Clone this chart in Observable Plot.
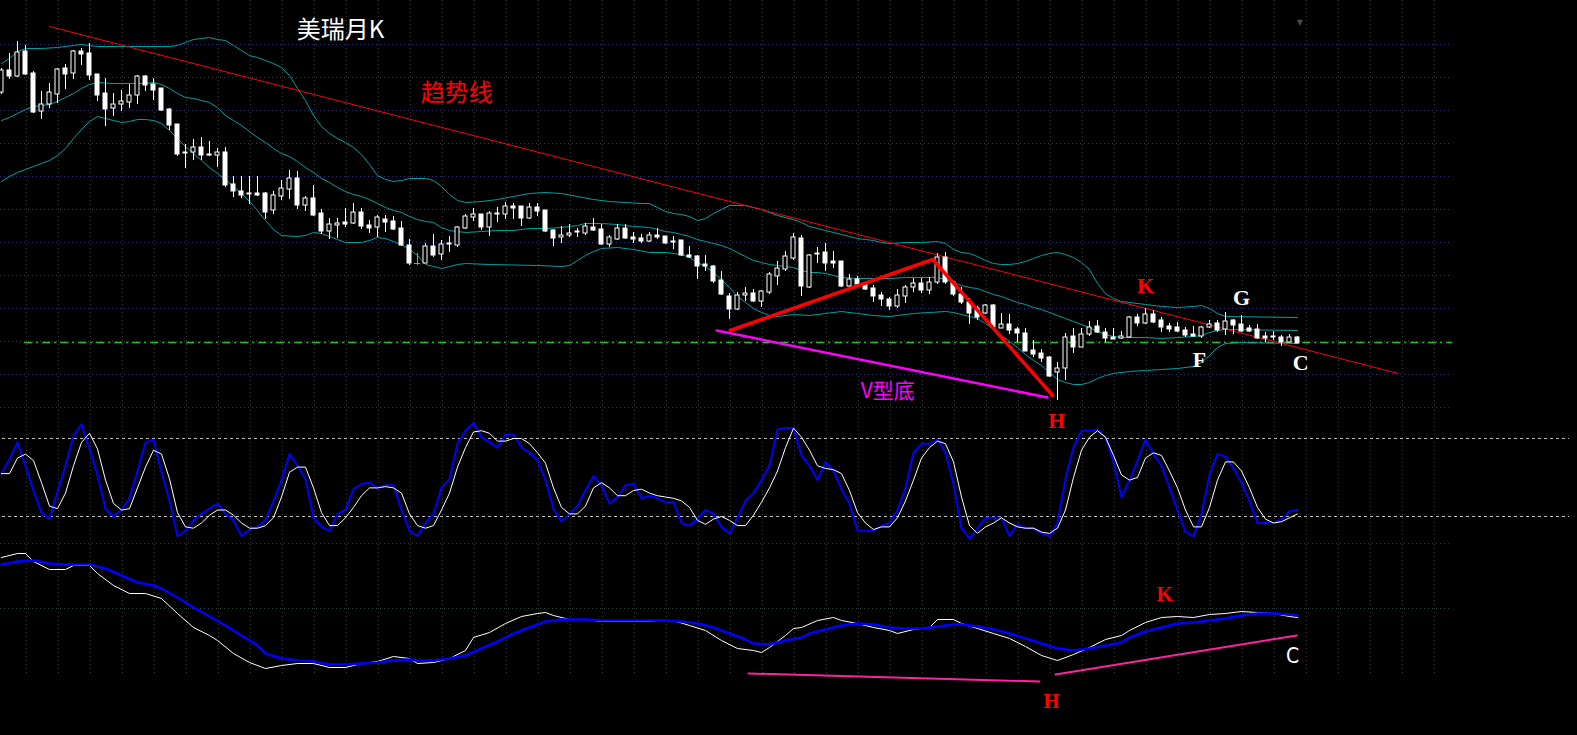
<!DOCTYPE html>
<html><head><meta charset="utf-8">
<script src="https://cdn.jsdelivr.net/npm/d3@7"></script>
<script src="https://cdn.jsdelivr.net/npm/@observablehq/plot@0.6"></script>
<style>
html,body{margin:0;padding:0;background:#000;}
#chart{width:1577px;height:735px;background:#000;overflow:hidden;}
#chart svg{display:block;overflow:visible;}
</style></head><body><div id="chart"></div>
<script>
// ---------- monthly candles, index -1 .. 161 ----------
const firstIndex = -1;
const open = [35.8,38.0,37.4,39.9,37.7,33.9,34.6,35.6,38.2,37.7,39.9,39.7,37.6,35.7,34.2,34.6,34.8,35.5,37.4,36.6,36.2,34.1,32.6,29.8,29.8,30.3,29.6,29.5,29.8,26.6,25.9,25.7,25.7,25.7,24.0,25.4,26.1,27.2,24.5,25.2,23.7,21.9,22.5,22.8,22.7,23.8,22.5,22.3,23.1,22.9,22.2,20.5,18.7,18.7,20.4,19.6,20.6,20.5,22.2,23.3,23.6,22.3,23.7,23.6,24.4,24.4,23.2,24.3,24.0,22.0,21.3,21.5,21.8,21.7,22.3,22.1,20.6,21.1,22.2,21.3,21.2,20.9,21.5,21.4,20.8,21.0,19.5,19.4,18.6,18.4,17.0,15.4,14.1,15.5,15.7,14.9,15.8,17.4,18.1,19.2,21.2,16.3,19.6,19.8,18.9,18.9,16.4,17.1,16.6,16.2,15.5,15.1,14.4,15.4,16.3,16.7,16.0,16.8,19.3,16.8,15.6,14.8,14.2,13.7,14.5,12.2,12.6,12.1,11.7,10.0,9.7,9.3,7.8,8.2,11.4,10.3,11.6,12.4,11.8,11.3,11.2,11.3,13.3,12.7,13.6,13.0,12.4,12.3,12.0,11.6,11.4,12.3,12.7,12.1,13.0,12.6,12.2,12.1,11.4,11.4,11.3,10.8,11.3];
const close = [38.0,37.4,39.8,37.6,33.8,34.6,35.8,38.1,37.6,39.9,39.6,37.5,35.5,34.1,34.6,34.9,35.5,37.4,36.5,36.0,34.0,32.5,29.6,29.7,30.3,29.5,29.5,29.8,26.5,25.9,25.5,25.6,25.5,23.8,25.5,26.2,27.2,24.5,25.2,23.5,21.9,22.6,22.7,22.6,23.8,22.4,22.2,23.3,22.8,22.1,20.5,18.7,18.7,20.4,19.5,20.6,20.7,22.3,23.4,23.6,22.3,23.7,23.6,24.4,24.2,23.2,24.3,23.9,21.9,21.2,21.5,21.7,21.9,22.4,22.0,20.6,21.3,22.2,21.2,21.1,20.9,21.5,21.3,20.7,20.9,19.5,19.3,18.4,18.4,16.9,15.6,14.1,15.5,15.7,14.9,15.9,17.6,18.2,19.4,21.3,16.4,19.5,19.7,18.7,18.7,16.4,17.1,16.6,16.1,15.4,15.1,14.4,15.5,16.3,16.7,16.0,16.8,19.3,16.8,15.6,14.8,13.7,13.3,14.5,12.3,12.6,12.0,11.7,9.9,9.6,9.2,7.4,8.2,11.3,10.3,11.6,12.3,11.8,11.2,11.1,11.4,13.3,12.7,13.6,12.8,12.3,12.1,11.9,11.5,11.4,12.3,12.6,12.0,12.9,12.5,11.9,11.9,11.2,11.2,11.3,10.8,11.3,10.7];
const high = [38.2,39.7,40.9,40.5,37.9,35.9,36.7,38.2,38.6,40.0,40.2,40.7,37.6,37.2,35.7,36.0,36.6,37.5,37.5,37.2,36.2,34.2,32.6,30.6,31.1,31.3,30.9,30.2,30.3,27.4,27.4,27.4,27.4,25.8,25.9,27.0,28.0,27.9,25.4,26.5,24.1,23.2,23.2,24.2,24.7,24.2,23.0,23.5,23.5,23.4,22.9,21.1,19.7,20.7,21.6,21.0,21.4,22.4,23.6,24.2,23.6,23.9,24.3,24.8,24.7,24.4,24.7,24.7,24.0,22.1,22.4,22.6,22.2,22.7,23.2,22.6,21.5,22.6,22.6,21.8,21.6,21.8,22.2,21.4,21.4,21.0,20.4,19.5,19.5,18.5,17.9,15.7,15.8,16.3,16.1,16.0,17.8,18.9,19.9,21.7,21.5,19.6,20.3,20.7,19.9,18.9,17.6,17.4,16.8,16.5,15.8,15.3,16.1,16.5,17.2,17.2,17.3,19.7,19.8,16.9,16.3,15.2,14.4,14.6,14.6,13.7,13.6,12.3,12.2,11.0,10.1,9.4,8.8,11.7,12.2,12.2,12.9,13.0,12.2,12.2,11.9,13.4,13.6,14.2,14.0,13.3,12.7,12.8,12.3,12.4,12.4,13.0,13.0,13.8,13.1,13.5,12.5,12.6,11.8,11.9,11.5,11.6,11.4];
const low = [35.6,37.1,37.3,37.5,33.7,33.1,34.2,34.7,36.1,37.1,38.5,37.0,34.9,32.4,33.4,33.9,34.2,34.6,35.9,35.0,33.9,32.0,29.4,28.2,29.0,29.0,29.4,28.3,26.3,25.3,25.2,24.6,25.4,23.1,23.6,25.0,25.1,24.1,23.9,23.4,21.6,21.1,21.2,22.3,22.6,22.1,21.7,21.3,21.8,22.0,20.4,18.5,18.5,18.7,19.3,19.0,19.8,20.3,22.1,22.9,22.0,21.4,22.8,23.1,23.1,22.4,23.1,23.4,21.8,20.4,20.7,21.3,21.3,21.5,21.9,20.5,20.3,21.0,21.1,20.7,20.7,20.8,21.1,20.6,20.1,19.4,19.2,17.1,17.9,16.7,15.5,13.1,14.0,14.9,14.8,14.3,15.6,16.5,17.9,19.0,15.4,16.2,18.7,17.9,18.2,16.3,16.3,16.3,16.0,14.8,14.4,14.0,14.2,14.7,15.8,15.7,15.6,16.6,16.6,15.4,14.6,12.6,13.0,13.6,12.2,12.2,11.6,10.8,9.9,9.3,8.8,7.3,5.0,7.0,9.7,10.3,11.4,11.7,10.8,11.1,11.1,11.2,12.4,12.6,12.7,11.8,11.8,11.8,11.3,11.3,11.2,12.2,11.8,11.5,11.6,11.8,11.8,11.1,10.8,11.0,10.4,10.8,10.7];

// ---------- Bollinger bands (read at sample months) ----------
const upIdx = [-1,0,1,2,4,6,8,9,11,15,19,20,21,22,23,24,25,26,27,28,29,30,31,32,33,34,35,36,37,38,39,40,41,42,43,44,45,46,47,48,49,50,52,53,54,55,56,57,59,61,63,65,67,69,71,73,75,77,79,80,81,82,83,84,85,86,87,88,89,90,92,93,94,95,96,97,98,99,100,101,102,103,104,105,106,107,108,109,110,112,114,116,117,118,119,120,121,122,123,124,125,126,127,128,129,130,131,132,133,134,135,136,137,138,139,140,142,144,146,148,149,150,151,152,161];
const upVal = [38.7,39.2,39.9,40.2,40.2,40.3,40.5,40.6,40.4,40.4,40.4,40.4,40.5,40.8,41.1,41.2,41.3,41.1,41.0,40.5,40.0,39.5,39.3,39.0,38.7,38.3,37.5,36.2,35.0,33.5,32.4,31.7,31.2,30.8,30.3,29.6,28.6,27.5,27.1,26.9,27.0,27.2,27.2,27.0,26.4,25.6,25.0,24.8,24.9,25.1,25.4,25.7,25.8,25.7,25.4,25.1,24.9,24.8,24.7,24.7,24.3,23.9,23.7,23.6,23.4,23.0,23.2,23.7,24.1,24.5,24.5,24.3,24.1,23.8,23.5,23.3,23.1,22.8,22.4,22.2,22.0,21.8,21.6,21.4,21.2,21.1,21.0,20.8,20.7,20.8,20.8,20.9,20.7,20.1,19.8,19.7,19.4,19.0,18.7,18.6,18.6,18.7,18.9,19.2,19.5,19.7,19.8,19.6,19.3,18.8,18.1,16.7,15.7,15.2,14.9,14.8,14.6,14.4,14.3,14.4,14.5,14.2,13.7,13.4,13.3];
const midIdx = [-1,0,1,2,3,4,5,6,7,8,9,10,11,13,15,17,18,19,20,21,22,23,24,25,26,27,28,29,30,31,32,33,34,35,36,37,38,39,40,41,42,43,44,45,46,47,48,49,50,51,52,53,54,55,56,57,59,61,63,65,67,69,70,71,72,74,76,78,80,81,82,83,84,85,86,87,88,89,90,91,92,93,94,95,96,97,98,99,100,101,102,103,104,106,108,110,112,116,117,118,119,120,121,122,123,124,125,126,127,128,129,130,131,132,133,134,135,136,137,138,139,142,144,146,148,149,150,151,152,161];
const midVal = [33.0,33.3,33.7,34.1,34.4,34.5,34.6,34.9,35.3,35.7,36.2,36.6,36.8,36.7,36.7,36.7,36.8,36.6,36.2,35.7,35.3,35.2,35.0,34.8,34.3,33.5,33.0,32.5,31.9,31.3,30.8,30.2,29.7,29.4,28.9,28.3,27.8,27.2,26.8,26.3,25.9,25.6,25.4,25.1,24.7,24.3,24.0,23.8,23.4,23.1,22.9,22.8,22.3,22.0,21.9,21.8,21.9,22.0,22.0,22.2,22.2,22.3,22.4,22.5,22.7,22.7,22.6,22.4,22.3,22.1,21.9,21.8,21.6,21.4,21.1,20.9,20.7,20.5,20.2,19.8,19.4,19.0,18.8,18.6,18.5,18.4,18.3,18.0,17.8,17.8,17.7,17.5,17.3,17.2,17.2,17.2,17.3,17.3,17.1,16.8,16.5,16.3,16.2,15.9,15.6,15.4,15.1,14.8,14.6,14.3,14.1,13.8,13.5,13.2,12.9,12.6,12.3,11.9,11.6,11.4,11.3,11.3,11.2,11.3,11.4,11.5,11.8,12.0,12.1,12.0];
const lowIdx = [-1,0,1,2,3,4,5,6,7,8,9,10,11,12,13,14,15,16,17,18,19,20,21,22,23,24,25,26,27,28,29,30,31,32,33,34,36,37,38,39,40,41,42,44,45,46,47,48,49,50,51,52,53,54,55,56,57,60,66,69,70,71,72,73,74,76,78,80,82,84,85,86,87,88,89,90,91,92,93,94,95,96,98,100,101,102,104,106,108,110,111,112,113,115,117,118,119,120,121,122,123,124,125,126,127,128,129,130,131,132,133,134,135,136,137,138,140,142,144,146,148,149,150,151,152,154,161];
const lowVal = [26.9,27.4,27.8,28.1,28.4,28.7,29.0,29.5,30.2,31.2,32.1,32.9,33.4,33.2,33.0,32.8,32.9,33.1,33.1,33.0,32.7,32.0,31.2,30.4,29.7,29.0,28.3,27.7,27.1,26.4,25.7,24.9,24.0,23.0,22.1,21.5,21.4,21.5,21.8,21.7,21.4,21.1,20.8,20.8,21.0,21.3,21.2,20.9,20.6,20.1,19.5,18.6,18.4,18.2,18.4,18.6,18.7,18.6,18.5,18.4,18.5,19.0,19.5,19.9,20.2,20.3,20.1,19.8,19.8,19.6,19.3,18.8,18.4,17.8,17.1,16.3,15.4,14.8,14.2,13.8,13.5,13.4,13.6,13.5,13.6,13.7,13.9,13.7,13.5,13.4,13.5,13.6,13.7,13.8,13.9,13.8,13.6,13.4,13.2,12.7,12.1,11.5,10.9,10.3,9.6,9.0,8.5,7.8,7.1,6.8,6.6,6.6,6.8,7.2,7.5,7.7,7.9,8.0,8.1,8.2,8.4,8.8,9.5,10.3,10.7,10.8,10.7];

// ---------- stochastic K (blue) and D (white), index -1 .. 161 ----------
const stochK = [53,64,77,59,40,23,18,39,59,82,91,72,52,26,20,25,34,55,77,79,54,32,5,9,17,22,26,30,22,17,5,10,12,17,32,48,68,59,49,19,12,9,22,25,41,45,46,42,44,44,25,9,5,15,22,42,49,76,86,92,81,77,73,83,83,73,69,63,48,26,16,22,28,40,51,44,30,35,44,45,34,36,34,31,31,15,13,18,25,22,12,7,19,32,38,48,59,87,88,88,67,59,48,62,55,41,30,9,9,9,13,15,25,42,69,76,76,79,69,45,11,3,11,19,19,19,5,14,11,11,7,5,15,49,73,86,86,87,81,62,35,48,63,79,68,59,42,25,8,5,22,52,68,66,57,46,32,15,15,15,18,24,25];
const stochD = [53,53,65,68,63,46,28,26,38,59,77,84,72,48,30,25,26,42,58,71,68,49,23,12,11,15,21,25,25,21,15,11,11,13,19,35,54,58,58,42,23,13,13,19,27,36,42,42,43,42,38,22,13,11,13,25,38,58,73,85,86,84,78,78,80,80,76,69,61,42,27,22,22,28,42,46,42,36,36,40,41,38,36,35,34,32,27,17,14,18,20,17,13,13,21,31,42,55,73,88,81,71,59,57,56,53,40,23,15,10,12,12,19,32,48,65,73,78,76,62,35,13,7,12,15,19,15,12,11,11,8,7,11,25,50,71,81,86,81,67,52,48,50,65,69,67,55,42,25,12,12,27,48,62,62,55,42,27,18,15,16,19,22];
const stochLevels = [80, 20];

// ---------- MACD-style lines (read at sample months) ----------
const difIdx = [-1,1,2,3,5,7,8,10,11,13,15,17,19,21,23,25,26,28,30,32,34,36,38,40,42,44,46,48,50,51,53,55,57,58,60,62,64,66,67,68,70,72,74,76,78,80,81,83,85,87,89,91,93,94,95,97,98,99,101,103,104,106,108,110,111,113,115,116,118,119,121,123,125,127,129,131,133,135,137,139,140,142,144,146,148,150,152,154,156,158,160,161];
const difVal = [0.83,0.87,0.87,0.79,0.71,0.71,0.75,0.75,0.67,0.55,0.47,0.47,0.42,0.27,0.13,0.05,0.00,-0.13,-0.22,-0.28,-0.25,-0.23,-0.23,-0.27,-0.27,-0.23,-0.21,-0.16,-0.18,-0.23,-0.22,-0.18,-0.10,0.03,0.08,0.17,0.24,0.27,0.28,0.25,0.21,0.21,0.19,0.19,0.19,0.19,0.20,0.20,0.15,0.10,0.00,-0.08,-0.10,-0.12,-0.07,0.05,0.12,0.13,0.20,0.23,0.20,0.17,0.13,0.10,0.07,0.11,0.13,0.21,0.21,0.17,0.12,0.07,0.02,-0.06,-0.15,-0.20,-0.14,-0.07,0.01,0.05,0.10,0.18,0.23,0.24,0.23,0.26,0.27,0.29,0.28,0.27,0.24,0.23];
const deaIdx = [-1,1,3,5,7,9,10,12,14,16,18,19,21,23,25,27,29,31,32,34,36,38,40,42,44,46,48,50,51,53,55,57,59,61,63,65,67,69,70,72,74,76,78,80,82,84,86,88,90,92,93,95,97,99,100,102,104,106,108,110,112,114,116,118,119,121,123,125,127,129,131,133,135,137,139,140,142,144,146,148,150,152,154,156,158,160,161];
const deaVal = [0.76,0.79,0.80,0.77,0.76,0.76,0.76,0.72,0.65,0.58,0.55,0.52,0.43,0.33,0.24,0.15,0.05,-0.05,-0.13,-0.18,-0.20,-0.21,-0.24,-0.24,-0.23,-0.22,-0.20,-0.19,-0.20,-0.20,-0.18,-0.15,-0.08,-0.01,0.07,0.13,0.19,0.21,0.21,0.21,0.20,0.20,0.20,0.20,0.20,0.19,0.17,0.13,0.07,0.01,-0.03,-0.04,0.00,0.03,0.07,0.11,0.15,0.17,0.16,0.13,0.12,0.12,0.14,0.16,0.16,0.14,0.11,0.07,0.02,-0.03,-0.08,-0.10,-0.08,-0.05,-0.02,0.03,0.09,0.13,0.17,0.18,0.20,0.22,0.25,0.27,0.27,0.26,0.25];

// ---------- drawn annotations (month index, value) ----------
const trendLine = [[5, 42.4], [173.6, 7.7]];
const vLine = [[90.1, 12.0], [115.4, 19.1], [130.4, 5.5]];
const vBase = [[88.4, 12.0], [129.75, 5.3]];
const supportLevel = 10.8;
const supportSpan = [1.9, 180.4];
const macdLow = [[92.4, -0.33], [128.75, -0.41]];
const macdRise = [[130.75, -0.34], [160.9, 0.05]];
const priceTexts = [
  {t: "美瑞月K", i: 35.9, v: 42.0, c: "#ffffff", s: 24, f: "cjk"},
  {t: "趋势线", i: 51.4, v: 35.7, c: "#ff0000", s: 24, f: "cjk"},
  {t: "V型底", i: 106.4, v: 5.9, c: "#ff00ff", s: 21, f: "cjk"},
  {t: "K", i: 142, v: 16.5, c: "#ff0000", s: 22, f: "serif"},
  {t: "G", i: 154, v: 15.3, c: "#ffffff", s: 22, f: "serif"},
  {t: "F", i: 148.75, v: 9.1, c: "#ffffff", s: 22, f: "serif"},
  {t: "C", i: 161.4, v: 8.8, c: "#ffffff", s: 22, f: "serif"}
];
const stochTexts = [{t: "H", i: 130.9, v: 93.8, c: "#ff0000", s: 22}];
const macdTexts = [
  {t: "K", i: 144.4, v: 0.46, c: "#ff0000", s: 21},
  {t: "C", i: 160.4, v: -0.16, c: "#ffffff", s: 21},
  {t: "H", i: 130.25, v: -0.61, c: "#ff0000", s: 21}
];
const cornerMark = [{t: "▼", i: 161.3, v: 42.8}];

// ---------- layout ----------
const W = 1577;
const xDomain = [-1.125, 196];
const gridXs = d3.range(45).map(k => 2.125 + 4 * k);
const gridEnd = 180.4;
const CJK = "'Noto Sans CJK SC', sans-serif";
const SERIF = "'Liberation Serif', 'DejaVu Serif', serif";
const TEAL = "#00a0a0";
const GRID_B = "#2c2c78";
const GRID_G = "#24483c";
const GRID_V = "#3c3c3c";

const candles = open.map((o, j) => ({i: j + firstIndex, open: o, close: close[j], high: high[j], low: low[j]}));
const pairs = (ix, vals) => ix.map((x, j) => [x, vals[j]]);
const seq = vals => vals.map((v, j) => [j + firstIndex, v]);

function panel(height, yDomain, marks) {
  return Plot.plot({
    width: W, height, margin: 0,
    x: {domain: xDomain, axis: null},
    y: {domain: yDomain, axis: null},
    style: {background: "black", overflow: "visible", display: "block"},
    marks
  });
}

// top: price panel
const topY = [4.4, 45];
const hTop = d3.range(11).map(k => (450 - (44 + 33 * k)) / 10);
const topPlot = panel(406, topY, [
  Plot.ruleX(gridXs, {stroke: GRID_V, strokeDasharray: "1,3"}),
  Plot.ruleY(hTop, {x1: xDomain[0], x2: gridEnd, stroke: (d, k) => k % 2 ? GRID_G : GRID_B, strokeDasharray: "1,3"}),
  Plot.ruleY([supportLevel], {x1: supportSpan[0], x2: supportSpan[1], stroke: "#18c818", strokeWidth: 1.5, strokeDasharray: "8,4,2,4"}),
  Plot.line(pairs(upIdx, upVal), {stroke: TEAL, strokeWidth: 1}),
  Plot.line(pairs(midIdx, midVal), {stroke: TEAL, strokeWidth: 1}),
  Plot.line(pairs(lowIdx, lowVal), {stroke: TEAL, strokeWidth: 1}),
  Plot.line(trendLine, {stroke: "#ff0000", strokeWidth: 1}),
  Plot.ruleX(candles, {x: "i", y1: "low", y2: "high", stroke: d => d.open === d.close ? "#00ff00" : "#ffffff"}),
  Plot.rect(candles.filter(d => d.open !== d.close), {x1: d => d.i - 0.25, x2: d => d.i + 0.25, y1: "open", y2: "close",
    fill: d => d.close > d.open ? "#000000" : "#ffffff", stroke: "#ffffff", strokeWidth: 1}),
  Plot.ruleY(candles.filter(d => d.open === d.close), {x1: d => d.i - 0.4, x2: d => d.i + 0.4, y: "open", stroke: "#00ff00"}),
  Plot.line(vBase, {stroke: "#ff00ff", strokeWidth: 2.5}),
  Plot.line(vLine, {stroke: "#ff0000", strokeWidth: 3.5, strokeLinejoin: "miter"}),
  Plot.text(priceTexts.filter(d => d.f === "cjk"), {x: "i", y: "v", text: "t", fill: "c", fontSize: d => d.s, textAnchor: "start", fontFamily: CJK}),
  Plot.text(priceTexts.filter(d => d.f === "serif"), {x: "i", y: "v", text: "t", fill: "c", fontSize: 22, fontWeight: "bold", fontFamily: SERIF}),
  Plot.text(cornerMark, {x: "i", y: "v", text: "t", fill: "#4a4a4a", fontSize: 8, fontFamily: "'DejaVu Sans', sans-serif"})
]);

// middle: stochastic panel
const midY = [-1.538, 104.615];
const midPlot = panel(138, midY, [
  Plot.ruleX(gridXs, {stroke: GRID_V, strokeDasharray: "1,3"}),
  Plot.ruleY([103.8], {x1: xDomain[0], x2: gridEnd, stroke: GRID_G, strokeDasharray: "1,3"}),
  Plot.ruleY([-0.77], {x1: xDomain[0], x2: gridEnd, stroke: GRID_B, strokeDasharray: "1,3"}),
  Plot.ruleY(stochLevels, {x1: -0.875, x2: 195, stroke: "#c0c0c0", strokeDasharray: "3,3"}),
  Plot.line(seq(stochK), {stroke: "#0000ff", strokeWidth: 2}),
  Plot.line(seq(stochD), {stroke: "#ffffff", strokeWidth: 1}),
  Plot.text(stochTexts, {x: "i", y: "v", text: "t", fill: "c", fontSize: 22, fontWeight: "bold", fontFamily: SERIF})
]);

// bottom: MACD panel
const botY = [-0.95, 0.96];
const botPlot = panel(191, botY, [
  Plot.ruleX(gridXs, {y1: 0.96, y2: -0.33, stroke: GRID_V, strokeDasharray: "1,3"}),
  Plot.ruleY([0.32], {x1: xDomain[0], x2: gridEnd, stroke: GRID_G, strokeDasharray: "1,3"}),
  Plot.line(pairs(difIdx, difVal), {stroke: "#ffffff", strokeWidth: 1}),
  Plot.line(pairs(deaIdx, deaVal), {stroke: "#0000ff", strokeWidth: 2.5}),
  Plot.line(macdLow, {stroke: "#ff22a0", strokeWidth: 2}),
  Plot.line(macdRise, {stroke: "#ff22a0", strokeWidth: 2}),
  Plot.text(macdTexts.filter(d => d.c !== "#ffffff"), {x: "i", y: "v", text: "t", fill: "c", fontSize: 21, fontWeight: "bold", fontFamily: SERIF}),
  Plot.text(macdTexts.filter(d => d.c === "#ffffff"), {x: "i", y: "v", text: "t", fill: "c", fontSize: 21, fontFamily: "'DejaVu Sans Condensed', 'DejaVu Sans', sans-serif"})
]);

const root = document.getElementById("chart");
root.append(topPlot, midPlot, botPlot);
</script>
</body></html>
